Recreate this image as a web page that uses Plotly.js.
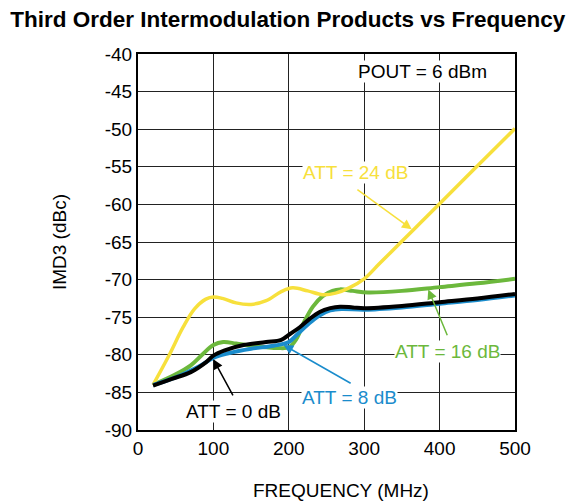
<!DOCTYPE html>
<html>
<head>
<meta charset="utf-8">
<script src="https://cdn.plot.ly/plotly-3.0.1.min.js"></script>
<style>html,body{margin:0;padding:0;background:#fff;}#chart{width:579px;height:502px;}</style>
</head>
<body>
<div id="chart"></div>
<script>
// ATT = 24 dB
const att24X = [20, 40, 60, 75, 90, 100, 112, 130, 150, 170, 190, 205, 225, 245, 262, 280, 300, 320, 350, 375, 400, 450, 500];
const att24Y = [-84, -80.3, -76.3, -73.9, -72.6, -72.3, -72.5, -73.1, -73.3, -72.8, -71.6, -71.1, -71.5, -72.0, -71.8, -71.1, -69.9, -67.9, -64.9, -62.4, -59.9, -54.9, -49.9];
// ATT = 16 dB
const att16X = [20, 50, 70, 85, 100, 113, 130, 150, 170, 185, 200, 210, 220, 232, 245, 258, 268, 285, 305, 350, 400, 450, 500];
const att16Y = [-84, -82.6, -81.4, -80.0, -78.7, -78.3, -78.5, -78.8, -79.0, -79.1, -79.0, -77.9, -75.7, -73.6, -72.2, -71.5, -71.3, -71.5, -71.7, -71.5, -71.0, -70.5, -69.9];
// ATT = 8 dB
const att8X = [20, 50, 80, 100, 120, 150, 180, 200, 212, 225, 240, 255, 270, 300, 350, 400, 450, 500];
const att8Y = [-84.0, -83.0, -81.6, -80.4, -79.8, -79.2, -78.8, -78.3, -77.2, -76.0, -74.8, -74.1, -73.9, -74.0, -73.7, -73.2, -72.7, -72.1];
// ATT = 0 dB
const att0X = [20, 45, 70, 90, 100, 115, 140, 170, 190, 202, 215, 228, 241, 255, 268, 285, 300, 350, 400, 450, 500];
const att0Y = [-84.1, -83.2, -82.3, -81.0, -80.1, -79.4, -78.7, -78.3, -78.0, -77.2, -76.3, -75.2, -74.3, -73.8, -73.6, -73.7, -73.8, -73.5, -73.0, -72.5, -71.9];

const xTicks = [0, 100, 200, 300, 400, 500];
const yTicks = [-90, -85, -80, -75, -70, -65, -60, -55, -50, -45, -40];

const YELLOW = '#f7e03c';
const GREEN = '#6cb83c';
const BLUE = '#1a8ccc';
const BLACK = '#000000';
const FONT = 'Liberation Sans, Arial, Helvetica, sans-serif';
const FS = 19;

function tr(x, y, color, w) {
  return {x: x, y: y, type: 'scatter', mode: 'lines',
    line: {color: color, width: w, shape: 'spline', smoothing: 1},
    hoverinfo: 'skip', showlegend: false};
}

const data = [
  tr(att16X, att16Y, GREEN, 4),
  tr(att24X, att24Y, YELLOW, 3.5),
  tr(att8X, att8Y, BLUE, 4),
  tr(att0X, att0Y, BLACK, 4)
];

function label(text, x, y, color) {
  return {text: text, x: x, y: y, xref: 'x', yref: 'y', showarrow: false,
    font: {family: FONT, size: FS, color: color}, bgcolor: '#ffffff',
    borderpad: 0, xanchor: 'center', yanchor: 'middle'};
}
function arrow(x, y, ax, ay, color) {
  return {text: '', x: x, y: y, ax: ax, ay: ay, xref: 'x', yref: 'y', axref: 'x', ayref: 'y',
    showarrow: true, arrowhead: 2, arrowsize: 1.3, arrowwidth: 1.5, arrowcolor: color};
}

const layout = {
  width: 579, height: 502,
  margin: {l: 138, r: 64, t: 54, b: 72, pad: 0},
  paper_bgcolor: '#ffffff', plot_bgcolor: '#ffffff',
  font: {family: FONT, size: FS, color: '#000'},
  title: {text: '<b>Third Order Intermodulation Products vs Frequency</b>',
    font: {family: FONT, size: 22.5, color: '#000'},
    xref: 'container', yref: 'container', x: 0.497, y: 0.962, xanchor: 'center', yanchor: 'middle'},
  xaxis: {range: [0, 500], tickvals: xTicks, ticktext: xTicks.map(String),
    showgrid: true, gridcolor: '#222', gridwidth: 1,
    showline: true, linecolor: '#000', linewidth: 2, mirror: true,
    ticks: '', zeroline: false, tickfont: {size: FS}},
  yaxis: {range: [-90, -40], tickvals: yTicks, ticktext: yTicks.map(String),
    showgrid: true, gridcolor: '#222', gridwidth: 1,
    showline: true, linecolor: '#000', linewidth: 2, mirror: true,
    ticks: '', zeroline: false, tickfont: {size: FS},
    title: {text: 'IMD3 (dBc)', font: {size: FS}, standoff: 33}},
  annotations: [
    {text: 'FREQUENCY (MHz)', xref: 'paper', yref: 'paper', x: 0.538, y: -0.162,
      xanchor: 'center', yanchor: 'middle', showarrow: false,
      font: {family: FONT, size: FS, color: '#000'}},
    label('POUT = 6 dBm', 377, -42.3, '#000'),
    label('ATT = 24 dB', 288, -55.8, YELLOW),
    label('ATT = 16 dB', 410, -79.6, GREEN),
    label('ATT = 8 dB', 281, -85.7, BLUE),
    label('ATT = 0 dB', 126, -87.6, '#000'),
    arrow(363, -63.3, 289, -57.9, YELLOW),
    arrow(385, -71.3, 411, -77.6, GREEN),
    arrow(193, -78.7, 284, -83.9, BLUE),
    arrow(100, -80.6, 127, -85.6, '#000')
  ]
};

Plotly.newPlot('chart', data, layout, {displayModeBar: false, staticPlot: true});
</script>
</body>
</html>
